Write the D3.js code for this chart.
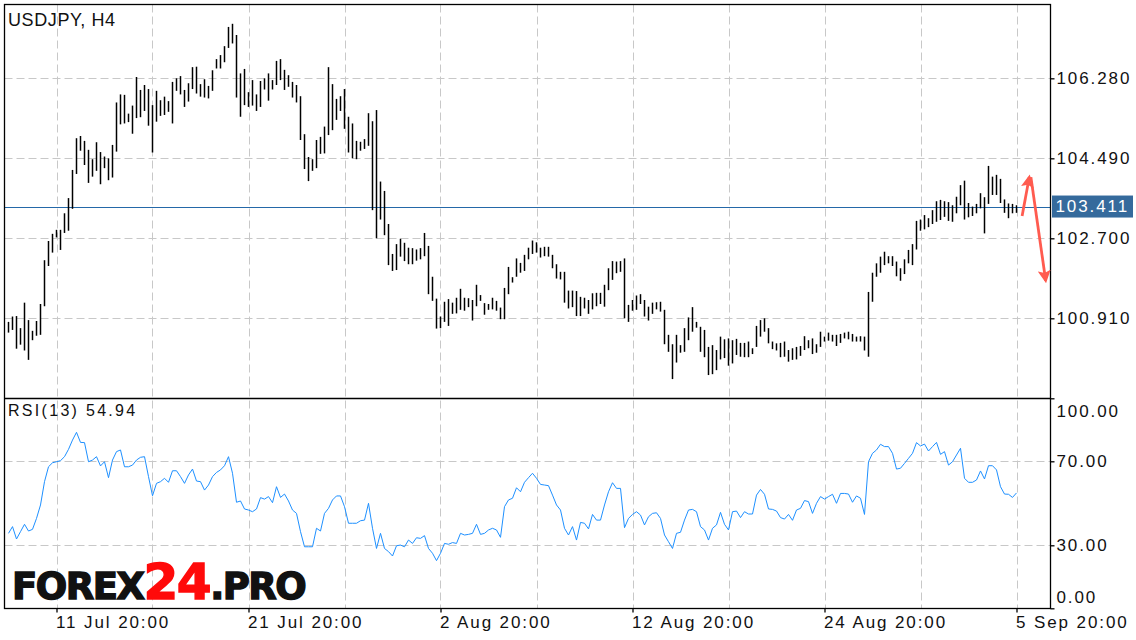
<!DOCTYPE html>
<html lang="en">
<head>
<meta charset="UTF-8" />
<title>USDJPY H4</title>
<script src="https://d3js.org/d3.v7.min.js"></script>
<style>
  body { margin: 0; background: #fff; }
  .lbl { font-family: "Liberation Sans", Arial, sans-serif; fill: #111; }
</style>
</head>
<body>
<div id="chart"></div>
<script>
// bar highs / lows (H4), oldest first
const highs = [
  100.83,100.95,100.96,100.69,101.26,100.87,100.63,100.85,101.23,102.21,
  102.64,102.80,102.89,102.89,103.26,103.60,104.23,104.94,104.99,104.88,
  104.68,104.47,104.85,104.63,104.53,104.49,104.79,105.74,105.92,105.91,
  105.49,105.67,106.31,106.02,106.13,106.04,105.68,106.00,105.79,105.87,
  105.77,106.20,106.28,106.33,106.02,106.17,106.53,106.54,106.15,106.26,
  106.11,106.46,106.71,106.80,107.00,107.43,107.50,107.25,106.39,106.49,
  105.97,106.24,105.92,106.22,106.28,106.39,106.24,106.67,106.71,106.47,
  106.35,106.20,106.13,105.88,105.03,104.52,104.47,104.90,104.97,105.20,
  106.53,106.15,105.82,105.88,106.04,105.42,105.27,104.88,104.86,104.92,
  105.50,105.32,105.57,103.97,103.76,103.02,102.35,102.57,102.69,102.60,
  102.49,102.48,102.45,102.48,102.82,102.53,101.84,101.35,100.95,101.28,
  101.34,101.26,101.37,101.57,101.37,101.36,101.32,101.66,101.43,101.25,
  101.23,101.37,101.30,101.15,101.59,102.06,101.83,102.25,102.15,102.33,
  102.49,102.65,102.61,102.49,102.51,102.51,102.33,102.12,101.95,101.95,
  101.53,101.53,101.52,101.39,101.37,101.32,101.47,101.48,101.48,101.66,
  102.03,102.19,102.18,102.19,102.25,101.21,101.32,101.42,101.45,101.32,
  101.17,101.26,101.27,101.28,101.10,100.54,100.33,100.54,100.31,100.69,
  100.93,101.16,100.83,100.72,100.65,100.27,100.31,100.20,100.50,100.44,
  100.46,100.42,100.45,100.36,100.36,100.39,100.24,100.74,100.87,100.91,
  100.69,100.39,100.35,100.36,100.39,100.20,100.24,100.27,100.29,100.51,
  100.42,100.46,100.33,100.61,100.50,100.59,100.54,100.54,100.56,100.59,
  100.61,100.56,100.50,100.51,100.50,101.50,101.93,102.14,102.29,102.40,
  102.30,102.30,102.18,102.03,102.23,102.44,102.57,103.09,103.12,103.22,
  103.15,103.33,103.53,103.56,103.53,103.51,103.44,103.63,103.89,103.99,
  103.49,103.41,103.47,103.71,103.62,104.32,104.08,104.12,104.03,103.57,
  103.48,103.47,103.44
];
const lows = [
  100.59,100.65,100.23,100.32,100.19,99.98,100.42,100.52,100.54,101.18,
  102.08,102.38,102.72,102.44,102.82,102.87,103.36,104.14,104.66,104.34,
  103.94,104.08,104.21,103.91,104.27,104.00,104.06,104.64,105.25,105.27,
  105.30,105.04,105.39,105.41,105.55,105.22,104.62,105.31,105.44,105.46,
  105.53,105.27,106.00,105.92,105.64,105.76,106.04,105.94,105.87,105.85,
  105.83,106.00,106.50,106.50,106.64,106.96,107.06,105.85,105.42,105.68,
  105.64,105.67,105.55,105.64,106.03,105.78,106.03,106.13,106.24,106.02,
  106.09,105.85,105.74,104.90,104.25,103.98,104.21,104.27,104.59,104.60,
  105.01,105.12,105.35,105.55,105.15,104.62,104.49,104.47,104.66,104.70,
  104.77,103.33,102.70,103.12,102.77,102.10,101.97,101.99,102.29,102.19,
  102.12,102.12,102.20,102.23,102.30,101.45,101.30,100.68,100.69,100.83,
  100.74,101.01,101.02,101.10,101.08,101.16,100.86,101.18,101.30,100.99,
  101.10,101.11,101.08,100.89,100.89,101.45,101.71,101.84,101.93,101.97,
  102.23,102.35,102.38,102.27,102.30,102.29,102.03,101.80,101.78,101.26,
  101.13,101.16,100.96,100.96,101.13,101.01,101.11,101.18,101.23,101.17,
  101.54,101.77,101.92,101.95,100.91,100.83,101.08,101.10,101.23,100.95,
  100.86,101.01,101.11,101.06,100.33,100.16,99.55,99.92,100.14,100.16,
  100.42,100.61,100.70,100.16,100.04,99.64,99.66,99.75,99.99,100.02,
  99.85,99.90,100.09,100.05,100.04,100.04,100.11,100.27,100.50,100.61,
  100.35,100.22,100.19,100.04,100.05,99.94,99.98,99.99,100.07,100.20,
  100.24,100.11,100.14,100.27,100.39,100.41,100.39,100.29,100.36,100.46,
  100.44,100.39,100.39,100.39,100.19,100.05,101.28,101.84,101.93,102.10,
  102.14,102.08,101.85,101.75,101.90,102.14,102.10,102.45,102.87,102.90,
  102.95,103.02,103.07,103.11,103.18,103.09,103.07,103.26,103.44,103.12,
  103.17,103.20,103.26,103.37,102.81,103.47,103.67,103.67,103.49,103.27,
  103.15,103.26,103.27
];
const rsi = [
  35.7,38.9,33.0,36.5,40.0,36.8,37.6,42.8,49.2,60.3,
  67.4,69.3,69.8,70.3,72.2,75.7,80.1,83.8,79.0,78.9,
  69.8,70.6,72.2,67.8,69.8,62.2,70.6,74.6,75.4,67.4,
  67.4,68.2,70.6,71.9,72.2,62.7,53.6,59.5,60.3,61.9,
  60.0,65.5,65.5,62.7,59.5,63.5,66.3,60.6,60.3,56.3,
  58.7,62.7,64.7,65.9,67.9,72.2,64.3,50.5,51.1,47.3,
  46.8,46.0,47.3,52.7,52.0,53.2,50.3,57.9,52.8,54.4,
  51.1,46.8,45.2,36.5,29.3,29.3,29.3,38.1,36.8,45.2,
  47.6,51.6,53.5,53.5,48.4,40.5,40.5,40.5,41.7,42.0,
  50.0,38.1,28.5,35.7,28.5,27.0,24.9,29.8,30.1,29.3,
  32.5,30.9,33.6,33.3,34.6,28.5,26.2,22.7,26.2,30.9,
  30.5,31.3,30.9,35.7,34.9,35.2,35.7,40.0,35.2,35.7,
  37.3,38.1,37.3,33.8,48.4,51.6,52.4,57.4,55.5,60.0,
  62.2,64.3,61.9,59.0,58.7,58.4,53.9,49.2,46.8,38.1,
  34.9,38.9,32.5,40.9,40.5,37.8,44.7,42.0,42.0,49.2,
  55.5,59.8,57.1,57.1,38.4,42.8,44.7,46.0,44.4,39.7,
  43.6,45.2,45.5,42.8,34.9,31.7,28.5,35.7,36.2,42.0,
  46.8,47.1,46.0,38.9,37.3,32.5,38.1,39.7,45.7,40.0,
  37.3,46.0,46.3,43.2,46.0,44.9,44.9,53.9,56.6,54.3,
  47.3,47.1,46.3,43.2,42.5,44.7,41.9,46.8,47.6,51.3,
  50.8,45.2,50.0,53.2,52.0,53.2,54.3,50.0,54.7,54.7,
  54.4,50.5,53.5,52.4,44.7,69.8,73.8,75.4,78.1,77.0,
  77.0,73.8,66.3,66.7,69.0,71.4,73.8,78.9,77.3,78.2,
  74.9,77.0,79.0,73.3,74.6,68.2,69.8,73.0,76.2,61.9,
  60.0,60.0,61.1,65.4,61.6,67.9,67.9,65.9,57.9,54.4,
  54.3,52.8,54.94
];

const priceTicks = [106.28, 104.49, 102.70, 100.91];
const rsiTicks = [100, 70, 30, 0];
const rsiGrid = [70, 30];
const dateTickIdx = [12, 60, 108, 156, 204, 252];
const dateTickLabels = ["11 Jul 20:00", "21 Jul 20:00", "2 Aug 20:00", "12 Aug 20:00", "24 Aug 20:00", "5 Sep 20:00"];
const lastPrice = 103.411;
const rsiLast = 54.94;
// hand-drawn forecast arrows, in bar index / price units
const arrows = [
  { i0: 253.4, p0: 103.20, i1: 255.2, p1: 104.07 },
  { i0: 255.6, p0: 104.07, i1: 259.3, p1: 101.75 }
];

const W = 1136, H = 640;
const L = 4.5, T = 4.5, R = 1050.5, SPLIT = 398.5, B = 608.5;
const font = '"Liberation Sans", Arial, sans-serif';

const svg = d3.select("#chart").append("svg")
  .attr("width", W).attr("height", H);

const x = d3.scaleLinear().domain([0, highs.length - 1]).range([8.5, 1016.5]);
const yP = d3.scaleLinear().domain([99.12, 107.943]).range([398.3, 4]);
const yR = d3.scaleLinear().domain([0, 100]).range([608.3, 398.3]);

// grid
const grid = svg.append("g")
  .attr("stroke", "#c8c8c8").attr("stroke-dasharray", "8,4").attr("stroke-width", 1);
grid.selectAll("line.v").data(d3.range(12, highs.length, 24)).join("line")
  .attr("class", "v")
  .attr("x1", d => Math.round(x(d)) + 0.5).attr("x2", d => Math.round(x(d)) + 0.5)
  .attr("y1", T).attr("y2", B);
grid.selectAll("line.hp").data(priceTicks).join("line")
  .attr("class", "hp")
  .attr("x1", L).attr("x2", R)
  .attr("y1", d => Math.round(yP(d)) + 0.5).attr("y2", d => Math.round(yP(d)) + 0.5);
grid.selectAll("line.hr").data(rsiGrid).join("line")
  .attr("class", "hr")
  .attr("x1", L).attr("x2", R)
  .attr("y1", d => Math.round(yR(d)) + 0.5).attr("y2", d => Math.round(yR(d)) + 0.5);

// current price line
const yLast = Math.round(yP(lastPrice)) + 0.5;
svg.append("line")
  .attr("x1", L).attr("x2", R).attr("y1", yLast).attr("y2", yLast)
  .attr("stroke", "#2468a8").attr("stroke-width", 1.2);

// price bars (high-low)
svg.append("g").selectAll("line").data(highs).join("line")
  .attr("x1", (d, i) => x(i)).attr("x2", (d, i) => x(i))
  .attr("y1", d => yP(d)).attr("y2", (d, i) => yP(lows[i]))
  .attr("stroke", "#000").attr("stroke-width", 1.5);

// RSI line
svg.append("path")
  .datum(rsi)
  .attr("fill", "none")
  .attr("stroke", "#1e90ff")
  .attr("stroke-width", 1)
  .attr("d", d3.line().x((d, i) => x(i)).y(d => yR(d)));

// frame
const frame = svg.append("g").attr("stroke", "#000").attr("stroke-width", 1.3).attr("fill", "none");
frame.append("rect").attr("x", L).attr("y", T).attr("width", R - L).attr("height", B - T);
frame.append("line").attr("x1", L).attr("x2", R).attr("y1", SPLIT).attr("y2", SPLIT);

// right price axis
const axP = svg.append("g").attr("transform", `translate(${R},0)`)
  .call(d3.axisRight(yP).tickValues(priceTicks).tickFormat(d3.format(".3f")).tickSize(4).tickPadding(2));
axP.select(".domain").remove();

const axR = svg.append("g").attr("transform", `translate(${R},0)`)
  .call(d3.axisRight(yR).tickValues(rsiTicks).tickFormat(d3.format(".2f")).tickSize(4).tickPadding(2));
axR.select(".domain").remove();
axR.selectAll(".tick text")
  .attr("dy", d => d === 100 ? "1.05em" : d === 0 ? "-0.35em" : "0.32em");

// bottom time axis
const axX = svg.append("g").attr("transform", `translate(0,${B})`)
  .call(d3.axisBottom(x).tickValues(dateTickIdx)
    .tickFormat((d, i) => dateTickLabels[i]).tickSize(4).tickPadding(3));
axX.select(".domain").remove();
axX.selectAll(".tick text").attr("text-anchor", "start").attr("x", -1);

[axP, axR, axX].forEach(g => {
  g.attr("font-family", font).attr("font-size", 17);
  g.selectAll(".tick line").attr("stroke", "#000").attr("stroke-width", 1.3);
  g.selectAll(".tick text").attr("fill", "#111").style("letter-spacing", "1.9px");
});

// last price tag
const tag = svg.append("g");
tag.append("rect")
  .attr("x", R + 1.5).attr("y", yP(lastPrice) - 11)
  .attr("width", 81).attr("height", 22)
  .attr("fill", "#356a9c");
tag.append("text")
  .attr("x", R + 5).attr("y", yP(lastPrice)).attr("dy", "0.35em")
  .attr("font-family", font).attr("font-size", 17)
  .style("letter-spacing", "1.9px")
  .attr("fill", "#fff")
  .text(d3.format(".3f")(lastPrice));

// titles
svg.append("text").attr("class", "lbl")
  .attr("x", 8).attr("y", 25.5)
  .attr("font-size", 18).style("letter-spacing", "0.6px")
  .text("USDJPY, H4");
svg.append("text").attr("class", "lbl")
  .attr("x", 8).attr("y", 415.5)
  .attr("font-size", 16).style("letter-spacing", "2.3px")
  .text(`RSI(13) ${d3.format(".2f")(rsiLast)}`);

// arrows
const defs = svg.append("defs");
defs.append("marker")
  .attr("id", "head")
  .attr("viewBox", "0 0 10 10")
  .attr("refX", 8).attr("refY", 5)
  .attr("markerWidth", 4.6).attr("markerHeight", 4.6)
  .attr("orient", "auto")
  .append("path").attr("d", "M0,0 L10,5 L0,10 L2,5 Z").attr("fill", "#ff5b4f");
svg.append("g").selectAll("line").data(arrows).join("line")
  .attr("x1", d => x(d.i0)).attr("y1", d => yP(d.p0))
  .attr("x2", d => x(d.i1)).attr("y2", d => yP(d.p1))
  .attr("stroke", "#ff5b4f").attr("stroke-width", 2.8)
  .attr("marker-end", "url(#head)");

// watermark
const logo = svg.append("text")
  .attr("x", 12).attr("y", 599)
  .attr("font-family", '"DejaVu Sans", sans-serif')
  .attr("font-weight", "bold")
  .attr("font-size", 37)
  .style("letter-spacing", "-1.5px")
  .attr("stroke-width", 1.4);
logo.append("tspan").attr("fill", "#111").attr("stroke", "#111").text("FOREX");
logo.append("tspan").attr("fill", "#ff0a0a").attr("stroke", "#ff0a0a").attr("font-size", 50).text("24");
logo.append("tspan").attr("fill", "#111").attr("stroke", "#111").text(".PRO");
</script>
</body>
</html>
